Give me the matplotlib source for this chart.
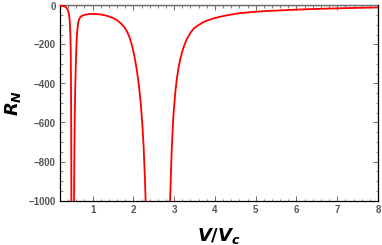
import numpy as np
import matplotlib
matplotlib.use("Agg")
import matplotlib.pyplot as plt
from matplotlib.ticker import MultipleLocator

# Data (V/Vc, R_N); NaN marks a break at the poles
v_branch1 = [0.20, 0.25, 0.30, 0.34, 0.37, 0.40, 0.42, 0.435, 0.447, 0.456,
             0.464, 0.470, 0.475, 0.479, 0.483]
r_branch1 = [-1, -2, -4, -8, -15, -28, -45, -70, -110, -160,
             -250, -400, -650, -1000, -1400]

v_branch2 = [0.535, 0.544, 0.552, 0.562, 0.574, 0.586, 0.598, 0.61, 0.625, 0.64,
             0.66, 0.69, 0.73, 0.80, 0.90, 1.00, 1.10, 1.20, 1.30, 1.40,
             1.50, 1.60, 1.70, 1.78, 1.84, 1.90, 1.96, 2.02, 2.08, 2.13,
             2.18, 2.22, 2.25, 2.28, 2.30, 2.32]
r_branch2 = [-1400, -1000, -760, -570, -420, -315, -235, -175, -125, -96,
             -76, -62, -54, -48, -44, -43, -44, -46, -50, -56,
             -64, -76, -93, -112, -132, -160, -200, -255, -325, -400,
             -500, -610, -720, -870, -1000, -1150]

v_branch3 = [2.88, 2.90, 2.94, 2.98, 3.03, 3.07, 3.11, 3.15, 3.20, 3.25,
             3.31, 3.40, 3.48, 3.60, 3.72, 3.85, 3.97, 4.10, 4.30, 4.62,
             5.00, 5.20, 5.60, 6.02, 6.40, 6.83, 7.40, 8.00]
r_branch3 = [-1150, -1000, -741, -570, -440, -370, -315, -275, -235, -203,
             -172, -140, -118, -100, -85, -74, -66, -59, -50, -39,
             -32, -29, -25, -21, -18, -15.5, -12.5, -10]

x_ticks = [1, 2, 3, 4, 5, 6, 7, 8]
y_ticks = [0, -200, -400, -600, -800, -1000]
y_tick_labels = ['0', '\u2212200', '\u2212400', '\u2212600', '\u2212800', '\u22121000']

v = v_branch1 + [np.nan] + v_branch2 + [np.nan] + v_branch3
r = r_branch1 + [np.nan] + r_branch2 + [np.nan] + r_branch3

plt.rcParams['mathtext.fontset'] = 'custom'
plt.rcParams['mathtext.it'] = 'DejaVu Sans:italic:bold'
plt.rcParams['mathtext.rm'] = 'DejaVu Sans:bold'

fig = plt.figure(figsize=(3.82, 2.45), dpi=100)
ax = fig.add_axes([60/382, 1 - 200.5/245, 318/382, 195/245])

ax.axhline(0, color='#6e6e6e', lw=1.6, zorder=3)
ax.plot(v, r, color='#ff0000', lw=1.3, zorder=4, solid_joinstyle='round')

ax.set_xlim(0.2, 8)
ax.set_ylim(-1000, 0)
ax.set_xticks(x_ticks)
ax.set_yticks(y_ticks)
ax.set_yticklabels(y_tick_labels)
ax.xaxis.set_minor_locator(MultipleLocator(0.2))
ax.yaxis.set_minor_locator(MultipleLocator(50))

ax.tick_params(which='both', direction='in', top=True, right=True,
               colors='#555555', labelcolor='#555555')
ax.tick_params(which='major', length=3.5, width=0.6, pad=3)
ax.tick_params(which='minor', length=1.8, width=0.5)
for lab in ax.get_xticklabels() + ax.get_yticklabels():
    lab.set_fontfamily('Liberation Sans')
    lab.set_fontweight('bold')
    lab.set_fontsize(7)
ax.tick_params(axis='x', labeltop=False)
ax.tick_params(axis='y', labelright=False)

for s in ax.spines.values():
    s.set_color('black')
    s.set_linewidth(0.9)

ax.set_xlabel(r'$V/V_c$', fontsize=13, color='black')
ax.set_ylabel(r'$R_N$', fontsize=13, color='black')
ax.xaxis.set_label_coords(0.5, -0.13)
ax.yaxis.set_label_coords(-0.115, 0.5)

fig.savefig('out.png', dpi=100)
